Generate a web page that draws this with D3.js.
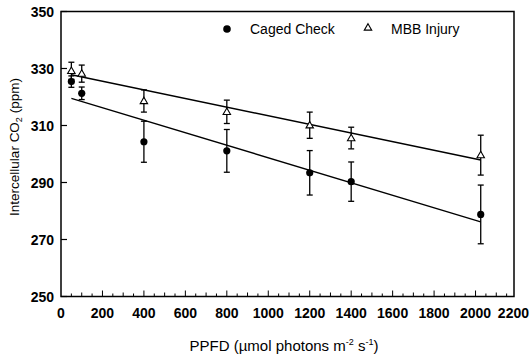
<!DOCTYPE html>
<html>
<head>
<meta charset="utf-8">
<script src="https://cdn.jsdelivr.net/npm/d3@7"></script>
<style>
  body { margin: 0; background: #fff; }
  svg { font-family: "Liberation Sans", Arial, sans-serif; }
</style>
</head>
<body>
<svg id="chart" width="530" height="358"></svg>
<script>
// values
const ppfd = [50, 100, 400, 800, 1200, 1400, 2025];
const cagedMean = [325.4, 321.3, 304.3, 301.1, 293.4, 290.3, 278.8];
const cagedErr = [2.0, 2.2, 7.2, 7.5, 7.8, 6.9, 10.3];
const mbbMean = [329.2, 328.2, 318.6, 314.8, 310.1, 305.6, 299.6];
const mbbErr = [3.0, 3.0, 3.9, 4.1, 4.6, 3.8, 7.0];
// regression line end points [ppfd, ppm]
const cagedFit = [[50, 319.5], [2025, 276.2]];
const mbbFit = [[50, 327.8], [2025, 297.9]];
const xTicks = [0, 200, 400, 600, 800, 1000, 1200, 1400, 1600, 1800, 2000, 2200];
const yTicks = [250, 270, 290, 310, 330, 350];

const svg = d3.select("#chart");
const plotL = 61, plotR = 514, plotT = 11.5, plotB = 296.5;

const x = d3.scaleLinear().domain([0, 2200]).range([plotL, 517]);
const y = d3.scaleLinear().domain([250, 350]).range([plotB, plotT]);

// frame
svg.append("rect")
  .attr("x", plotL).attr("y", plotT)
  .attr("width", plotR - plotL).attr("height", plotB - plotT)
  .attr("fill", "none").attr("stroke", "#000").attr("stroke-width", 1.5);

// x ticks pointing inward
d3.range(50, 2200, 50).forEach(v => {
  let len = v % 200 === 0 ? 6 : (v % 100 === 0 ? 4 : 3);
  svg.append("line")
    .attr("x1", x(v)).attr("x2", x(v))
    .attr("y1", plotB).attr("y2", plotB - len)
    .attr("stroke", "#000").attr("stroke-width", 1);
});

// last label is pulled in so it stays on the page
svg.selectAll(".xlab")
  .data(xTicks)
  .enter().append("text")
  .attr("x", d => d === 2200 ? 529 : x(d)).attr("y", 318)
  .attr("text-anchor", d => d === 2200 ? "end" : "middle")
  .attr("font-size", 14).attr("font-weight", "bold")
  .text(d => d);

// y ticks
yTicks.forEach(v => {
  svg.append("line")
    .attr("x1", plotL).attr("x2", plotL + 6)
    .attr("y1", y(v)).attr("y2", y(v))
    .attr("stroke", "#000").attr("stroke-width", 1.2);
});
svg.selectAll(".ylab")
  .data(yTicks)
  .enter().append("text")
  .attr("x", 54).attr("y", d => y(d) + 5)
  .attr("text-anchor", "end")
  .attr("font-size", 14).attr("font-weight", "bold")
  .text(d => d);

// axis titles
svg.append("text")
  .attr("x", 284).attr("y", 351)
  .attr("text-anchor", "middle")
  .attr("font-size", 15)
  .html('PPFD (µmol photons m<tspan dy="-6" font-size="9">-2</tspan><tspan dy="6">  s</tspan><tspan dy="-6" font-size="9">-1</tspan><tspan dy="6">)</tspan>');

svg.append("text")
  .attr("transform", "translate(19,147) rotate(-90)")
  .attr("text-anchor", "middle")
  .attr("font-size", 13.5)
  .html('Intercellular CO<tspan dy="3" font-size="9">2</tspan><tspan dy="-3">  (ppm)</tspan>');

// regression lines
const line = d3.line().x(d => x(d[0])).y(d => y(d[1]));
[cagedFit, mbbFit].forEach(f => {
  svg.append("path").attr("d", line(f))
    .attr("fill", "none").attr("stroke", "#000").attr("stroke-width", 1.4);
});

// error bars
function errBars(mean, err) {
  ppfd.forEach((p, i) => {
    let cx = x(p), y1 = y(mean[i] + err[i]), y2 = y(mean[i] - err[i]);
    svg.append("line").attr("x1", cx).attr("x2", cx).attr("y1", y1).attr("y2", y2)
      .attr("stroke", "#000").attr("stroke-width", 1.3);
    [y1, y2].forEach(yy => {
      svg.append("line").attr("x1", cx - 3).attr("x2", cx + 3).attr("y1", yy).attr("y2", yy)
        .attr("stroke", "#000").attr("stroke-width", 1.3);
    });
  });
}
errBars(cagedMean, cagedErr);
errBars(mbbMean, mbbErr);

const tri = d3.symbol().type(d3.symbolTriangle).size(24);

// markers
svg.selectAll(".caged")
  .data(ppfd)
  .enter().append("circle")
  .attr("cx", d => x(d)).attr("cy", (d, i) => y(cagedMean[i]))
  .attr("r", 3.6).attr("fill", "#000");

svg.selectAll(".mbb")
  .data(ppfd)
  .enter().append("path")
  .attr("d", tri)
  .attr("transform", (d, i) => "translate(" + x(d) + "," + (y(mbbMean[i]) + 0.5) + ")")
  .attr("fill", "#fff").attr("stroke", "#000").attr("stroke-width", 1.1);

// legend
svg.append("circle").attr("cx", 227).attr("cy", 29).attr("r", 3.8).attr("fill", "#000");
svg.append("text").attr("x", 250).attr("y", 34).attr("font-size", 14).text("Caged Check");
svg.append("path").attr("d", tri)
  .attr("transform", "translate(368,28)")
  .attr("fill", "#fff").attr("stroke", "#000").attr("stroke-width", 1.1);
svg.append("text").attr("x", 391).attr("y", 34).attr("font-size", 14).text("MBB Injury");
</script>
</body>
</html>
